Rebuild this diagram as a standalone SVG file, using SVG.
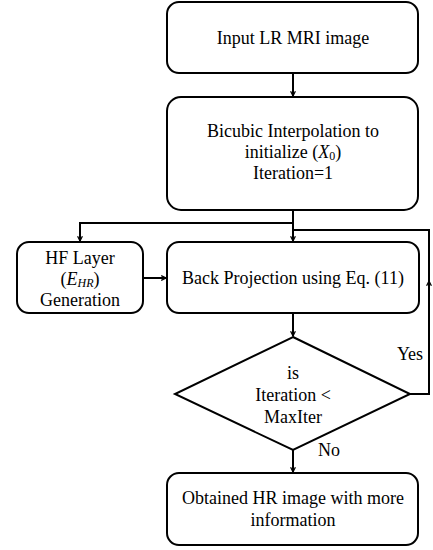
<svg xmlns="http://www.w3.org/2000/svg" width="433" height="550" viewBox="0 0 433 550">
<style>
.box{fill:#fff;stroke:#000;stroke-width:2}
.t{font-family:"Liberation Serif","Times New Roman",serif;font-size:18px;fill:#000;text-anchor:middle}
.m{font-style:italic}
.c{fill:none;stroke:#000;stroke-width:2}
</style>
<defs>
<marker id="ah" viewBox="0 0 10 10" refX="9" refY="5" markerWidth="6" markerHeight="6" orient="auto" markerUnits="userSpaceOnUse">
<path d="M1,1 L9,5 L1,9" fill="none" stroke="#000" stroke-width="2"/>
</marker>
</defs>
<rect width="433" height="550" fill="#fff"/>
<g id="connectors">
<line class="c" x1="293" y1="73" x2="293" y2="96" marker-end="url(#ah)"/>
<path class="c" d="M293,210 V241" marker-end="url(#ah)"/>
<path class="c" d="M293,223 H80 V241" marker-end="url(#ah)"/>
<line class="c" x1="143" y1="278" x2="166" y2="278" marker-end="url(#ah)"/>
<line class="c" x1="293" y1="313" x2="293" y2="336" marker-end="url(#ah)"/>
<path class="c" d="M410,394 H429 V230 H293"/>
<path class="c" d="M429,300 V281" marker-end="url(#ah)"/>
<line class="c" x1="293" y1="450" x2="293" y2="472" marker-end="url(#ah)"/>
<text class="t" x="410" y="360">Yes</text>
<text class="t" x="329" y="456">No</text>
</g>
<g id="input">
<rect class="box" x="167" y="2" width="251" height="71" rx="12"/>
<text class="t" x="293" y="44">Input LR MRI image</text>
</g>
<g id="bicubic">
<rect class="box" x="167" y="97" width="251" height="113" rx="14"/>
<text class="t" x="293" y="137">Bicubic Interpolation to</text>
<text class="t" x="293" y="158">initialize (<tspan class="m">X</tspan><tspan font-size="12" dy="2">0</tspan><tspan dy="-2">)</tspan></text>
<text class="t" x="293" y="179">Iteration=1</text>
</g>
<g id="hf">
<rect class="box" x="17" y="242" width="126" height="71" rx="12"/>
<text class="t" x="80" y="264">HF Layer</text>
<text class="t" x="80" y="285">(<tspan class="m">E</tspan><tspan class="m" font-size="12" dy="2">HR</tspan><tspan dy="-2">)</tspan></text>
<text class="t" x="80" y="306">Generation</text>
</g>
<g id="bp">
<rect class="box" x="167" y="242" width="252" height="71" rx="12"/>
<text class="t" x="293" y="284">Back Projection using Eq. (11)</text>
</g>
<g id="decision">
<polygon class="box" points="293,337 410,394 293,450 175,394"/>
<text class="t" x="293" y="379">is</text>
<text class="t" x="293" y="401">Iteration &lt;</text>
<text class="t" x="293" y="423">MaxIter</text>
</g>
<g id="output">
<rect class="box" x="167" y="473" width="251" height="72" rx="12"/>
<text class="t" x="293" y="504">Obtained HR image with more</text>
<text class="t" x="293" y="526">information</text>
</g>
</svg>
